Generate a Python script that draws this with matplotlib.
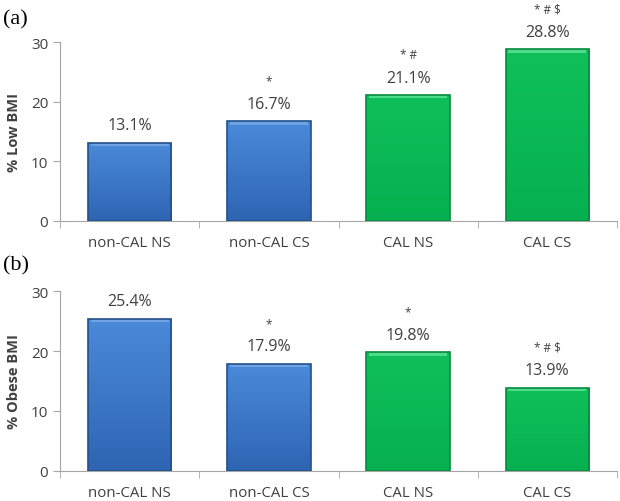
import matplotlib.pyplot as plt
import numpy as np
from matplotlib.colors import LinearSegmentedColormap

groups = ["non-CAL NS", "non-CAL CS", "CAL NS", "CAL CS"]
low_bmi = [13.1, 16.7, 21.1, 28.8]
obese_bmi = [25.4, 17.9, 19.8, 13.9]
low_marks = ["", "*", "* #", "* # $"]
obese_marks = ["", "*", "*", "* # $"]

blue_cm = LinearSegmentedColormap.from_list("b", ["#2e65b3", "#4a8ad8"])
green_cm = LinearSegmentedColormap.from_list("g", ["#06b050", "#0fc05a"])
cmaps = [blue_cm, blue_cm, green_cm, green_cm]
edge = ["#234f8c", "#234f8c", "#078a3e", "#078a3e"]
bevel = ["#6fa3e3", "#6fa3e3", "#4fdc8a", "#4fdc8a"]
text_col = "#404040"
spine_col = "#a6a6a6"

plt.rcParams["font.family"] = ["Open Sans", "DejaVu Sans"]

fig = plt.figure(figsize=(6.2, 5.02), dpi=100)
ax1 = fig.add_axes([0.097, 0.558, 0.898, 0.356])
ax2 = fig.add_axes([0.097, 0.060, 0.898, 0.358])


def draw(ax, vals, marks, ylabel):
    x = np.arange(len(groups))
    w = 0.6
    bars = ax.bar(x, vals, width=w, color="none", edgecolor=edge, linewidth=1.2, zorder=3)
    grad = np.linspace(0, 1, 100).reshape(-1, 1)
    for b, cm, bv in zip(bars, cmaps, bevel):
        x0, h = b.get_x(), b.get_height()
        im = ax.imshow(grad, cmap=cm, origin="lower", aspect="auto",
                       extent=(x0, x0 + w, 0, h), zorder=2)
        im.set_clip_path(b)
        # light top bevel
        ax.fill_between([x0 + 0.02, x0 + w - 0.02], h - 0.55, h, color=bv, zorder=2.5, lw=0)
    for xi, v, m in zip(x, vals, marks):
        ax.annotate(f"{v}%", (xi, v), xytext=(0, 12.5), textcoords="offset points",
                    ha="center", va="center", fontsize=11.5, color=text_col)
        if m:
            ax.annotate(m, (xi, v), xytext=(0, 29), textcoords="offset points",
                        ha="center", va="center", fontsize=8.5, color=text_col)
    ax.set_xlim(-0.5, 3.5)
    ax.set_ylim(0, 30)
    ax.set_yticks([0, 10, 20, 30])
    ax.set_xticks(x)
    ax.set_xticklabels(groups)
    ax.set_xticks(np.arange(-0.5, 4, 1), minor=True)
    ax.tick_params(axis="x", which="major", length=0, pad=10, labelsize=10.8, labelcolor=text_col)
    ax.tick_params(axis="x", which="minor", length=5, color=spine_col, direction="out")
    ax.tick_params(axis="y", length=5, color=spine_col, labelsize=11, labelcolor=text_col)
    for s in ["top", "right"]:
        ax.spines[s].set_visible(False)
    for s in ["left", "bottom"]:
        ax.spines[s].set_color(spine_col)
    ax.set_ylabel(ylabel, fontsize=10.5, fontweight="bold", color=text_col, labelpad=7)


draw(ax1, low_bmi, low_marks, "% Low BMI")
draw(ax2, obese_bmi, obese_marks, "% Obese BMI")

fig.text(0.005, 0.96, "(a)", family="Liberation Serif", fontsize=16, va="center")
fig.text(0.005, 0.47, "(b)", family="Liberation Serif", fontsize=16, va="center")

fig.savefig("out.png", dpi=100)
